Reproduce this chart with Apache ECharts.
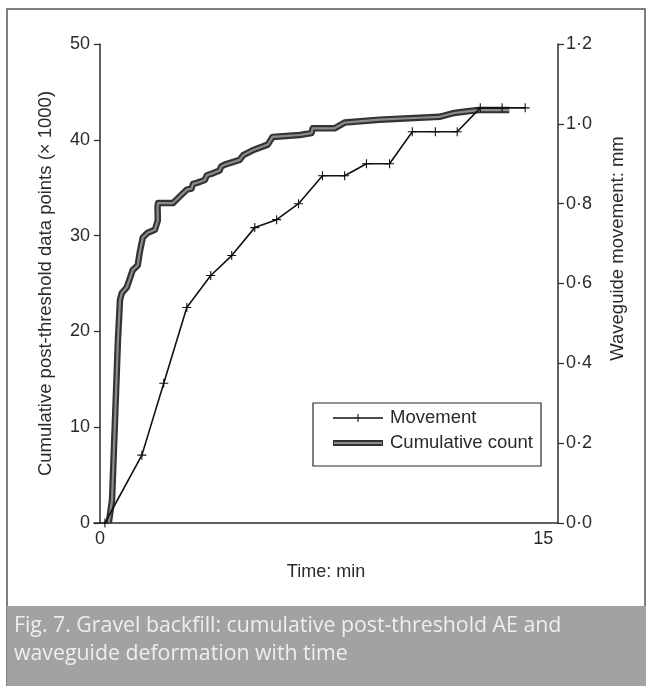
<!DOCTYPE html>
<html>
<head>
<meta charset="utf-8">
<script src="https://cdn.jsdelivr.net/npm/echarts@6/dist/echarts.min.js"></script>
<style>
  html, body { margin: 0; padding: 0; background: #ffffff; }
  #chart { width: 646px; height: 686px; }
</style>
</head>
<body>
<div id="chart"></div>
<script>
// Waveguide movement (mm) against time (min)
const movementTime = [0.17, 1.42, 2.16, 2.94, 3.75, 4.46, 5.24, 5.98, 6.72, 7.53, 8.28, 9.02, 9.80, 10.57, 11.35, 12.09, 12.87, 13.61, 14.39];
const movementMm   = [0.00, 0.17, 0.35, 0.54, 0.62, 0.67, 0.74, 0.76, 0.80, 0.87, 0.87, 0.90, 0.90, 0.98, 0.98, 0.98, 1.04, 1.04, 1.04];

// Cumulative post-threshold AE count (thousands) against time (min)
const countTime = [0.30, 0.41, 0.51, 0.61, 0.68, 0.74, 0.91, 1.11, 1.28, 1.35, 1.45, 1.62, 1.86, 1.96, 1.95, 1.97, 2.47, 2.64, 2.94, 3.10, 3.15, 3.28, 3.55, 3.62, 3.82, 4.05, 4.10, 4.22, 4.73, 4.85, 5.17, 5.68, 5.84, 6.76, 7.16, 7.20, 7.94, 8.28, 9.46, 10.81, 11.49, 11.99, 12.50, 12.84, 13.85];
const countThousands = [0, 2.4, 10.7, 19.1, 23.3, 24.0, 24.6, 26.4, 26.9, 28.3, 29.8, 30.3, 30.6, 31.6, 33.0, 33.4, 33.4, 33.9, 34.8, 34.9, 35.4, 35.5, 35.8, 36.3, 36.5, 36.8, 37.2, 37.4, 37.9, 38.4, 38.9, 39.5, 40.3, 40.5, 40.7, 41.2, 41.2, 41.8, 42.1, 42.3, 42.4, 42.8, 43.0, 43.1, 43.1];

// Axis tick labels
const timeTicks = [0, 15];
const countTickLabels = ['0', '10', '20', '30', '40', '50'];
const mmTickLabels = ['0·0', '0·2', '0·4', '0·6', '0·8', '1·0', '1·2'];

const pairs = (xs, ys) => xs.map((x, i) => [x, ys[i]]);
const ink = '#2a2a2a';
const font = 'Liberation Sans, Arial, sans-serif';
const plusIcon = 'path://M4.4,0h1.2v10h-1.2zM0,4.4h10v1.2h-10z';

const chart = echarts.init(document.getElementById('chart'), null, { renderer: 'canvas' });

chart.setOption({
  animation: false,
  backgroundColor: '#ffffff',
  grid: { left: 94, right: 88, top: 44, bottom: 163, containLabel: false },
  xAxis: {
    type: 'value',
    min: -0.2,
    max: 15.5,
    name: 'Time: min',
    nameLocation: 'middle',
    nameGap: 40,
    nameTextStyle: { color: ink, fontFamily: font, fontSize: 18 },
    axisLine: { show: true, lineStyle: { color: ink, width: 1.5 } },
    axisTick: { show: false },
    splitLine: { show: false },
    axisLabel: {
      customValues: timeTicks,
      margin: 7,
      color: ink, fontFamily: font, fontSize: 18,
      formatter: v => String(v)
    }
  },
  yAxis: [
    {
      type: 'value',
      position: 'left',
      min: 0, max: 50, interval: 10,
      name: 'Cumulative post-threshold data points (× 1000)',
      nameLocation: 'middle',
      nameGap: 39,
      nameTextStyle: { color: ink, fontFamily: font, fontSize: 18.5 },
      axisLine: { show: true, lineStyle: { color: ink, width: 1.5 } },
      axisTick: { show: true, inside: false, length: 6, lineStyle: { color: ink, width: 1.2 } },
      splitLine: { show: false },
      axisLabel: {
        margin: 4, color: ink, fontFamily: font, fontSize: 18,
        formatter: v => countTickLabels[Math.round(v / 10)]
      }
    },
    {
      type: 'value',
      position: 'right',
      min: 0, max: 1.2, interval: 0.2,
      name: 'Waveguide movement: mm',
      nameLocation: 'middle',
      nameGap: 50,
      nameTextStyle: { color: ink, fontFamily: font, fontSize: 18.5, padding: [0, 0, 0, 70] },
      axisLine: { show: true, lineStyle: { color: ink, width: 1.5 } },
      axisTick: { show: true, inside: false, length: 6, lineStyle: { color: ink, width: 1.2 } },
      splitLine: { show: false },
      axisLabel: {
        margin: 8, color: ink, fontFamily: font, fontSize: 18,
        formatter: v => mmTickLabels[Math.round(v / 0.2)]
      }
    }
  ],
  series: [
    {
      name: 'Cumulative count',
      type: 'line',
      yAxisIndex: 0,
      data: pairs(countTime, countThousands),
      showSymbol: false,
      lineStyle: { color: '#333333', width: 6.5, join: 'round' },
      z: 2
    },
    {
      name: 'Cumulative count core',
      type: 'line',
      yAxisIndex: 0,
      data: pairs(countTime, countThousands),
      showSymbol: false,
      lineStyle: { color: '#8c8c8c', width: 2.2, join: 'round' },
      z: 3
    },
    {
      name: 'Movement',
      type: 'line',
      yAxisIndex: 1,
      data: pairs(movementTime, movementMm),
      symbol: plusIcon,
      symbolSize: 9,
      itemStyle: { color: '#111111' },
      lineStyle: { color: '#111111', width: 1.6 },
      z: 4
    }
  ],
  graphic: [
    // outer frame
    { type: 'rect', shape: { x: 7, y: 9, width: 638, height: 690 }, style: { fill: null, stroke: '#555', lineWidth: 1.5 }, silent: true },
    // caption band
    { type: 'rect', shape: { x: 7, y: 606, width: 639, height: 82 }, style: { fill: '#a0a2a4' }, silent: true },
    { type: 'text', x: 14, y: 615, style: { text: 'Fig. 7. Gravel backfill: cumulative post-threshold AE and', fill: '#eeeeee', font: '21.3px "Open Sans", Lato, sans-serif' } },
    { type: 'text', x: 14, y: 643, style: { text: 'waveguide deformation with time', fill: '#eeeeee', font: '21.3px "Open Sans", Lato, sans-serif' } },
    // legend
    { type: 'rect', shape: { x: 313, y: 403, width: 228, height: 63 }, style: { fill: '#ffffff', stroke: ink, lineWidth: 1.2 }, z: 10 },
    { type: 'line', shape: { x1: 333, y1: 418, x2: 383, y2: 418 }, style: { stroke: '#111', lineWidth: 1.6 }, z: 11 },
    { type: 'line', shape: { x1: 358, y1: 414, x2: 358, y2: 422 }, style: { stroke: '#111', lineWidth: 1.1 }, z: 11 },
    { type: 'text', x: 390, y: 418, style: { text: 'Movement', fill: ink, font: '18.5px "Liberation Sans", Arial, sans-serif', verticalAlign: 'middle' }, z: 11 },
    { type: 'line', shape: { x1: 333, y1: 443, x2: 383, y2: 443 }, style: { stroke: '#333', lineWidth: 6 }, z: 11 },
    { type: 'line', shape: { x1: 334, y1: 443, x2: 382, y2: 443 }, style: { stroke: '#8c8c8c', lineWidth: 2 }, z: 12 },
    { type: 'text', x: 390, y: 443, style: { text: 'Cumulative count', fill: ink, font: '18.5px "Liberation Sans", Arial, sans-serif', verticalAlign: 'middle' }, z: 11 }
  ]
});
</script>
</body>
</html>
